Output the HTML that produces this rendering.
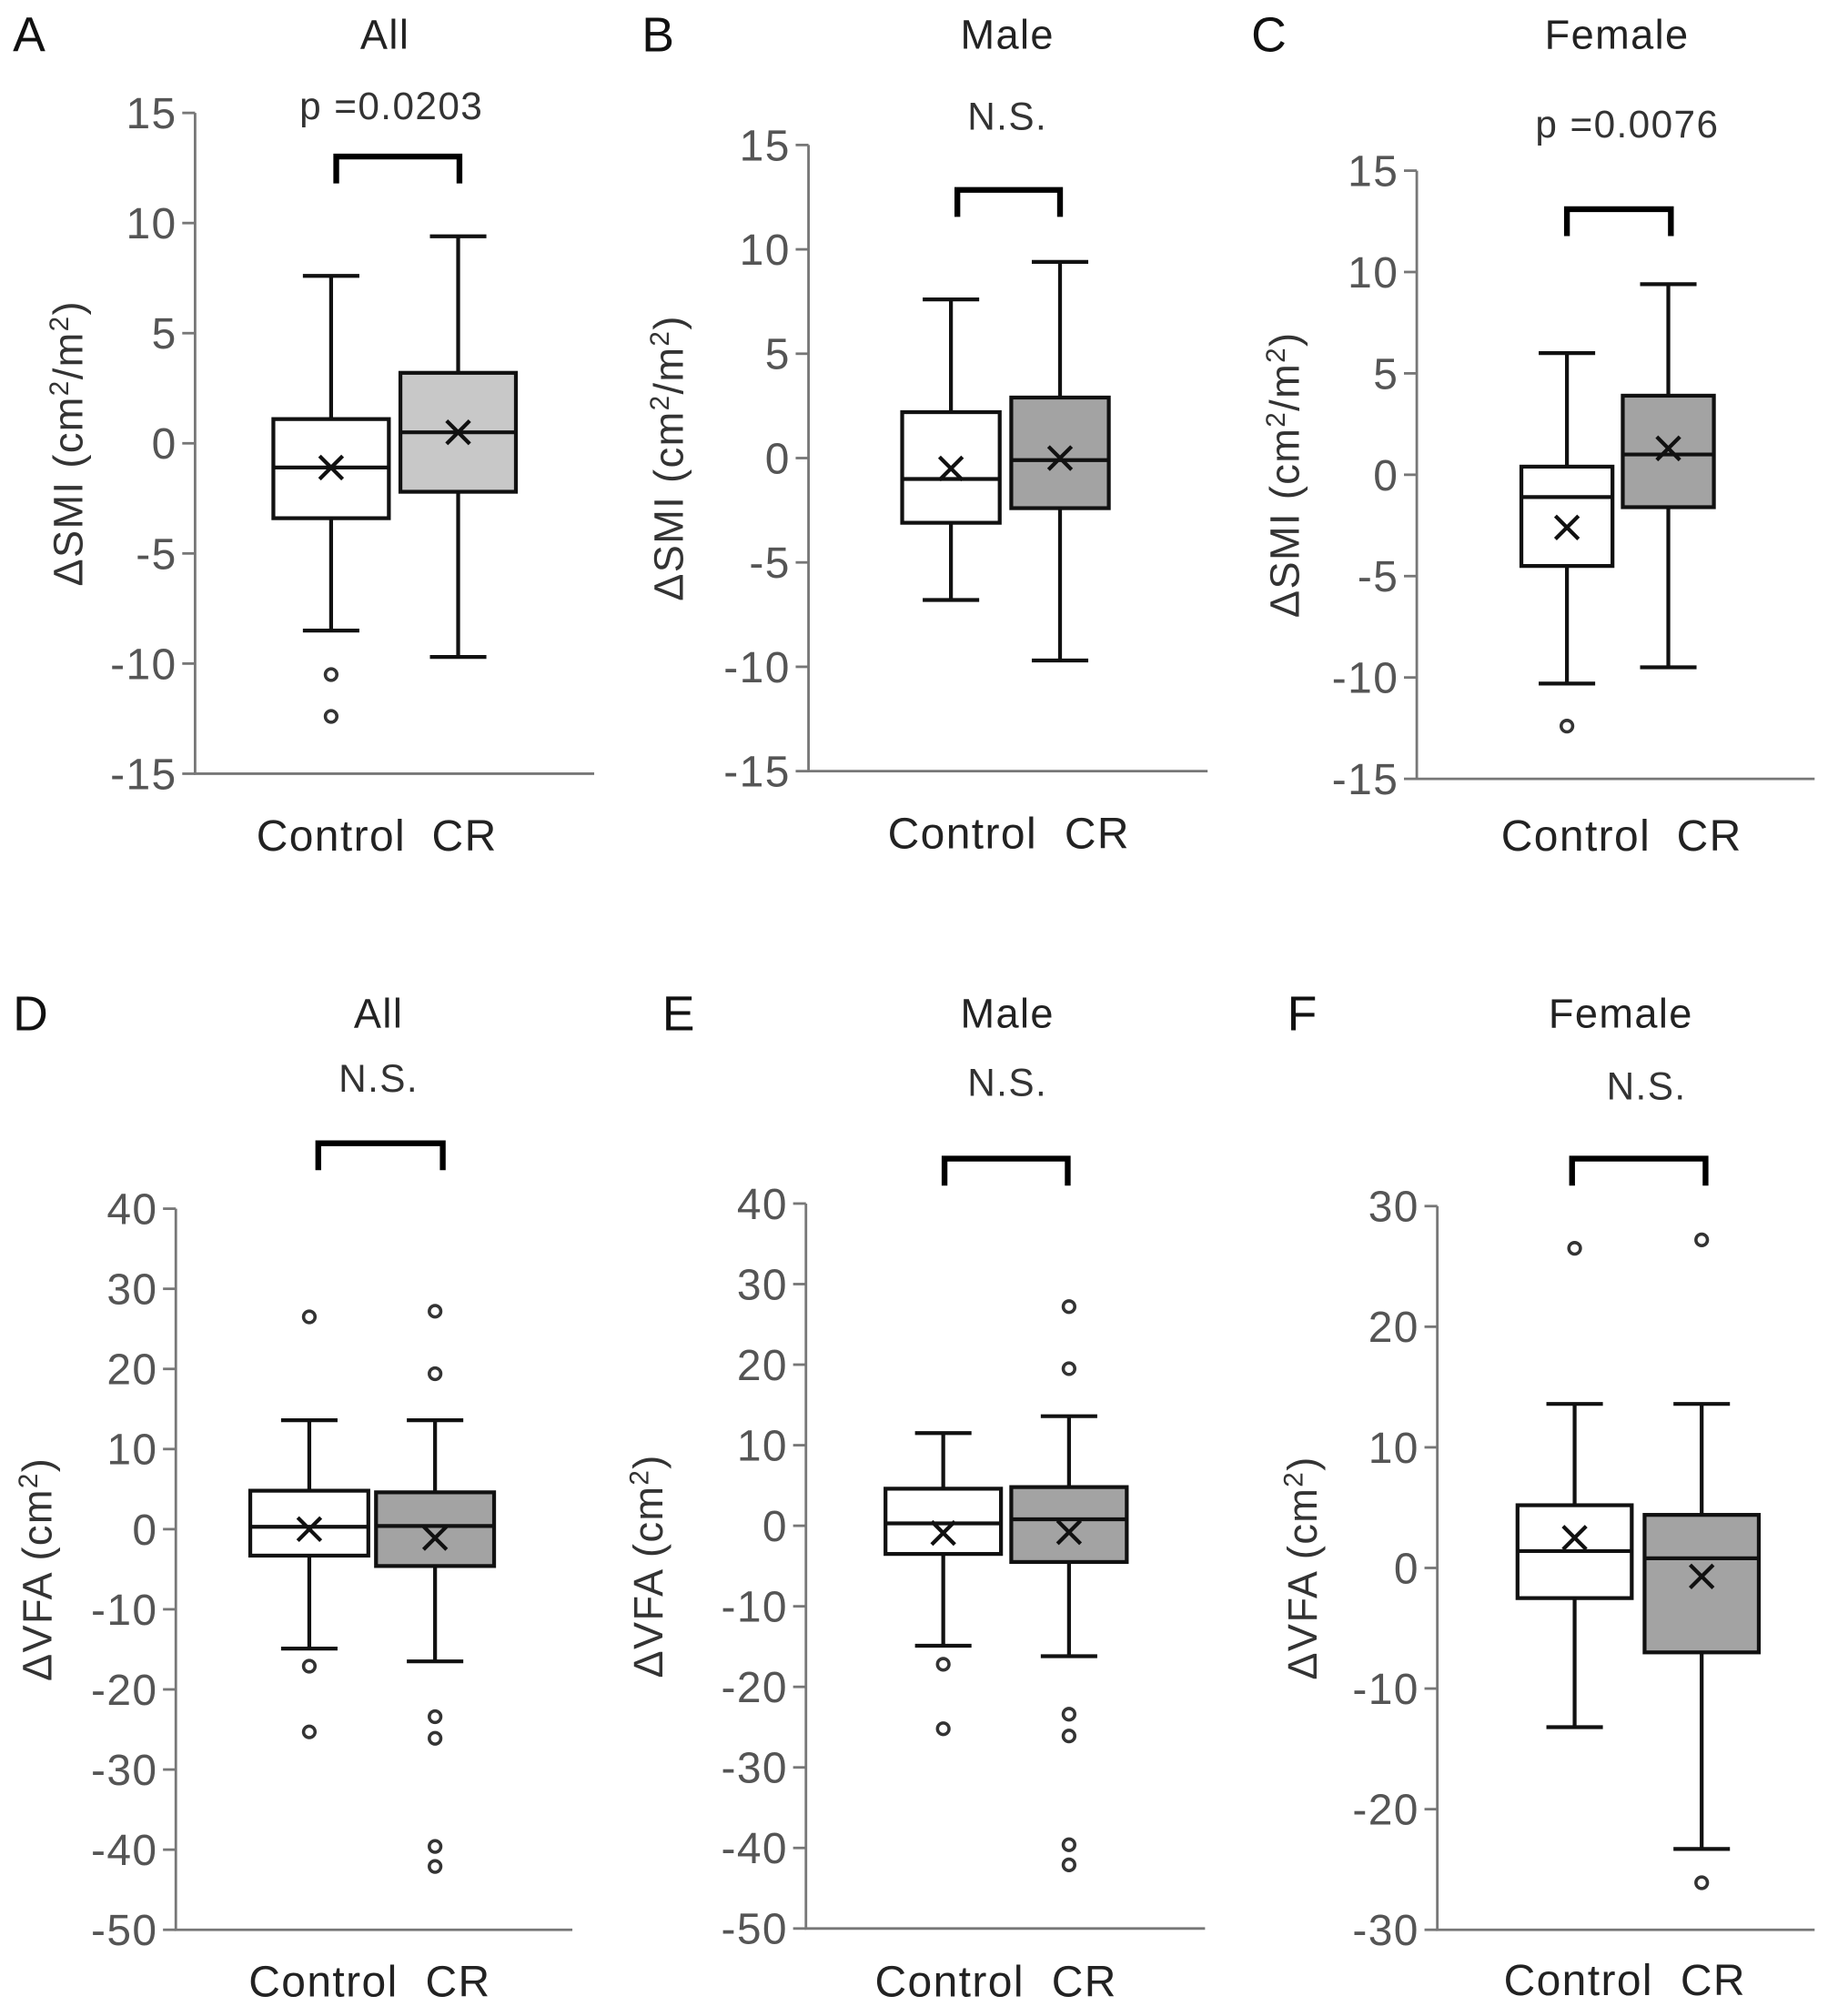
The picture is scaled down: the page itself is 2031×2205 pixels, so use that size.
<!DOCTYPE html>
<html><head><meta charset="utf-8"><style>
html,body{margin:0;padding:0;background:#fff}
svg{display:block}
text{font-family:"Liberation Sans",sans-serif}
</style></head><body>
<svg id="fig" width="2031" height="2205" viewBox="0 0 1440 1563.4" xmlns="http://www.w3.org/2000/svg"></svg>
<script>
// Data: [whiskerLow, q1, median, q3, whiskerHigh, mean]
const A_control=[-8.5,-3.4,-1.1,1.1,7.6,-1.1];
const A_cr=[-9.7,-2.2,0.5,3.2,9.4,0.5];
const A_control_out=[-10.5,-12.4];
const A_cr_out=[];
const B_control=[-6.8,-3.1,-1.0,2.2,7.6,-0.5];
const B_cr=[-9.7,-2.4,-0.1,2.9,9.4,0.0];
const B_control_out=[];
const B_cr_out=[];
const C_control=[-10.3,-4.5,-1.1,0.4,6.0,-2.6];
const C_cr=[-9.5,-1.6,1.0,3.9,9.4,1.3];
const C_control_out=[-12.4];
const C_cr_out=[];
const D_control=[-14.9,-3.3,0.3,4.8,13.6,0.0];
const D_cr=[-16.5,-4.6,0.4,4.6,13.6,-1.1];
const D_control_out=[26.5,-17.1,-25.3];
const D_cr_out=[27.2,19.4,-23.4,-26.1,-39.6,-42.1];
const E_control=[-14.9,-3.5,0.3,4.6,11.5,-0.9];
const E_cr=[-16.2,-4.5,0.8,4.8,13.6,-0.8];
const E_control_out=[-17.2,-25.2];
const E_cr_out=[27.2,19.5,-23.4,-26.1,-39.6,-42.1];
const F_control=[-13.2,-2.5,1.4,5.2,13.6,2.5];
const F_cr=[-23.3,-7.0,0.8,4.4,13.6,-0.7];
const F_control_out=[26.5];
const F_cr_out=[27.2,-26.1];
const smiTicks=[15,10,5,0,-5,-10,-15];
const vfaTicks=[40,30,20,10,0,-10,-20,-30,-40,-50];
const vfaFTicks=[30,20,10,0,-10,-20,-30];
const categories=["Control","CR"];

const svg=document.getElementById('fig');
const NS="http://www.w3.org/2000/svg";
function mk(tag,attrs,parent){const e=document.createElementNS(NS,tag);for(const k in attrs)e.setAttribute(k,attrs[k]);(parent||svg).appendChild(e);return e;}

const panels=[
 {id:'A',title:'All',sig:'p =0.0203',ctrl:A_control,cr:A_cr,co:A_control_out,ro:A_cr_out,ticks:smiTicks,smi:true,
  ax:152,axEnd:463,yTop:88,yBot:603,cx:258,rx:357,bw:90,crFill:'#c8c8c8',brY:122,brL:262,brR:358,sigY:93,sigX:305,titleX:300,letX:10,ylabX:64,xlY:663,cL:258,cR:362},
 {id:'B',title:'Male',sig:'N.S.',ctrl:B_control,cr:B_cr,co:B_control_out,ro:B_cr_out,ticks:smiTicks,smi:true,
  ax:630,axEnd:941,yTop:113,yBot:601,cx:741,rx:826,bw:76,crFill:'#a3a3a3',brY:148,brL:746,brR:826,sigY:101,sigX:785,titleX:785,letX:500,ylabX:532,xlY:661,cL:750,cR:855},
 {id:'C',title:'Female',sig:'p =0.0076',ctrl:C_control,cr:C_cr,co:C_control_out,ro:C_cr_out,ticks:smiTicks,smi:true,
  ax:1104,axEnd:1414,yTop:133,yBot:607,cx:1221,rx:1300,bw:71,crFill:'#a3a3a3',brY:163,brL:1221,brR:1302,sigY:107,sigX:1268,titleX:1260,letX:975,ylabX:1012,xlY:663,cL:1228,cR:1332},
 {id:'D',title:'All',sig:'N.S.',ctrl:D_control,cr:D_cr,co:D_control_out,ro:D_cr_out,ticks:vfaTicks,smi:false,
  ax:137,axEnd:446,yTop:942,yBot:1504,cx:241,rx:339,bw:92,crFill:'#a3a3a3',brY:891,brL:248,brR:345,sigY:851,sigX:295,titleX:295,letX:10,ylabX:40,xlY:1556,cL:252,cR:357},
 {id:'E',title:'Male',sig:'N.S.',ctrl:E_control,cr:E_cr,co:E_control_out,ro:E_cr_out,ticks:vfaTicks,smi:false,
  ax:628,axEnd:939,yTop:938,yBot:1503,cx:735,rx:833,bw:90,crFill:'#a3a3a3',brY:903,brL:736,brR:832,sigY:854,sigX:785,titleX:785,letX:516,ylabX:516,xlY:1556,cL:740,cR:845},
 {id:'F',title:'Female',sig:'N.S.',ctrl:F_control,cr:F_cr,co:F_control_out,ro:F_cr_out,ticks:vfaFTicks,smi:false,
  ax:1120,axEnd:1414,yTop:940,yBot:1504,cx:1227,rx:1326,bw:89,crFill:'#a3a3a3',brY:903,brL:1225,brR:1329,sigY:857,sigX:1283,titleX:1263,letX:1003,ylabX:1026,xlY:1555,cL:1230,cR:1335}
];

panels.forEach(p=>{
  const g=mk('g',{});
  
  
  const tMax=p.ticks[0],tMin=p.ticks[p.ticks.length-1];
  const y=v=>p.yTop+(tMax-v)/(tMax-tMin)*(p.yBot-p.yTop);
  let t=mk('text',{x:p.letX,y:p.id>='D'?803:40,'font-size':38,fill:'#111'},g);t.textContent=p.id;
  
  t=mk('text',{x:p.titleX,y:p.id>='D'?801:38,'font-size':32,'text-anchor':'middle',fill:'#222','letter-spacing':1},g);t.textContent=p.title;
  
  t=mk('text',{x:p.sigX,y:p.sigY,'font-size':30,'text-anchor':'middle',fill:'#333','letter-spacing':1},g);t.textContent=p.sig;
  
  const br=mk('path',{d:`M${p.brL},${p.brY+21}V${p.brY}H${p.brR}V${p.brY+21}`,fill:'none',stroke:'#000','stroke-width':4.5},g);
  
  const ax=mk('path',{d:`M${p.ax},${p.yTop}V${p.yBot}H${p.axEnd}`,fill:'none',stroke:'#777','stroke-width':2},g);
  
  p.ticks.forEach(v=>{
    const l=mk('line',{x1:p.ax-10,x2:p.ax,y1:y(v),y2:y(v),stroke:'#777','stroke-width':2},g);
    
    const tt=mk('text',{x:p.ax-14,y:y(v)+12,'font-size':34,'text-anchor':'end',fill:'#555','letter-spacing':1},g);tt.textContent=v;
    
  });
  const ymid=(p.yTop+p.yBot)/2;
  const yl=mk('text',{x:0,y:0,'font-size':32,'text-anchor':'middle',fill:'#333','letter-spacing':1,transform:`translate(${p.ylabX},${ymid}) rotate(-90)`},g);
  
  if(p.smi){yl.innerHTML='ΔSMI  (cm<tspan dy="-11" font-size="21">2</tspan><tspan dy="11">/m</tspan><tspan dy="-11" font-size="21">2</tspan><tspan dy="11">)</tspan>';}
  else{yl.innerHTML='ΔVFA  (cm<tspan dy="-11" font-size="21">2</tspan><tspan dy="11">)</tspan>';}
  [[categories[0],p.cL],[categories[1],p.cR]].forEach(([s,x])=>{
    const xt=mk('text',{x:x,y:p.xlY,'font-size':34,'text-anchor':'middle',fill:'#222','letter-spacing':1},g);xt.textContent=s;
    
  });
  [[p.ctrl,p.co,p.cx,'#fff','control'],[p.cr,p.ro,p.rx,p.crFill,'cr']].forEach(([d,outs,cx,fill,nm])=>{
    const bg=mk('g',{},g);
    
    const hw=p.bw/2,cap=22;
    mk('line',{x1:cx,x2:cx,y1:y(d[4]),y2:y(d[3]),stroke:'#111','stroke-width':3},bg);
    mk('line',{x1:cx,x2:cx,y1:y(d[1]),y2:y(d[0]),stroke:'#111','stroke-width':3},bg);
    mk('line',{x1:cx-cap,x2:cx+cap,y1:y(d[4]),y2:y(d[4]),stroke:'#111','stroke-width':3},bg);
    mk('line',{x1:cx-cap,x2:cx+cap,y1:y(d[0]),y2:y(d[0]),stroke:'#111','stroke-width':3},bg);
    mk('rect',{x:cx-hw,y:y(d[3]),width:p.bw,height:y(d[1])-y(d[3]),fill:fill,stroke:'#111','stroke-width':3},bg);
    mk('line',{x1:cx-hw,x2:cx+hw,y1:y(d[2]),y2:y(d[2]),stroke:'#111','stroke-width':3},bg);
    const my=y(d[5]),s=9;
    mk('path',{d:`M${cx-s},${my-s}L${cx+s},${my+s}M${cx-s},${my+s}L${cx+s},${my-s}`,stroke:'#111','stroke-width':3},bg);
    outs.forEach(o=>{
      const c=mk('circle',{cx:cx,cy:y(o),r:4.5,fill:'#fff',stroke:'#333','stroke-width':2.5},bg);
      
    });
  });
});
</script>
</body></html>
